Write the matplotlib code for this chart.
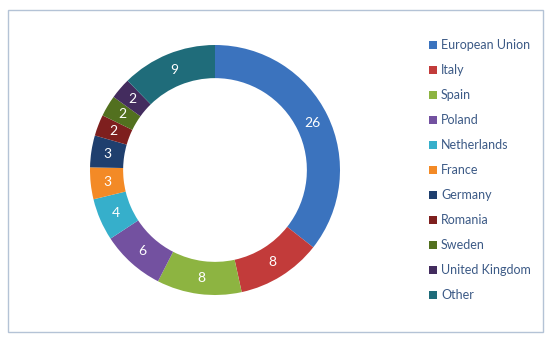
import matplotlib
matplotlib.use("Agg")
import matplotlib.pyplot as plt
import numpy as np
from matplotlib.patches import Rectangle

# donut data, clockwise from 12 o'clock
labels = ["European Union", "Italy", "Spain", "Poland", "Netherlands", "France",
          "Germany", "Romania", "Sweden", "United Kingdom", "Other"]
values = [26, 8, 8, 6, 4, 3, 3, 2, 2, 2, 9]
colors = ["#3B73BE", "#C23B3A", "#8DB441", "#7351A0", "#36AFCB", "#F38A26",
          "#1F3F6E", "#7E1F1E", "#52701F", "#432C5E", "#1F6C7A"]

plt.rcParams['font.family'] = ['Lato', 'DejaVu Sans']

fig = plt.figure(figsize=(5.5, 3.4), dpi=100)

# outer frame
fig.patches.append(Rectangle((8 / 550, 8 / 340), 535 / 550, 322 / 340,
                             transform=fig.transFigure, fill=False,
                             edgecolor="#B4C3D6", linewidth=1))

# donut
ring = 0.265
ax = fig.add_axes([(215 - 125) / 550, (340 - 170 - 125) / 340, 250 / 550, 250 / 340])
ax.pie(values, colors=colors, startangle=90, counterclock=False,
       radius=1.0, wedgeprops=dict(width=ring, edgecolor="none"))
ax.set_aspect("equal")
ax.set_xlim(-1, 1)
ax.set_ylim(-1, 1)

total = sum(values)
cum = 0
for v in values:
    mid = 90 - (cum + v / 2) / total * 360
    cum += v
    r = 1 - ring / 2
    ax.text(r * np.cos(np.radians(mid)), r * np.sin(np.radians(mid)), str(v),
            ha="center", va="center", color="white", fontsize=10)

# legend
for i, (lab, c) in enumerate(zip(labels, colors)):
    y = 1 - (45 + 25 * i) / 340
    fig.patches.append(Rectangle((429 / 550, y - 4 / 340), 8 / 550, 8 / 340,
                                 transform=fig.transFigure, facecolor=c,
                                 edgecolor="none"))
    fig.text(441 / 550, y, lab, ha="left", va="center", fontsize=9,
             color="#3C5A86")

fig.savefig("out.png", dpi=100)
